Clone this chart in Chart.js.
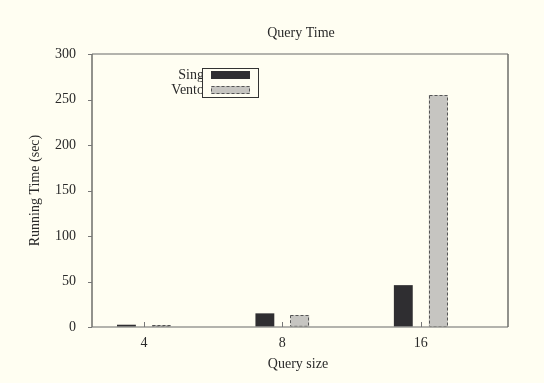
<!DOCTYPE html>
<html>
<head>
<meta charset="utf-8">
<script src="https://cdn.jsdelivr.net/npm/chart.js@4/dist/chart.umd.min.js"></script>
<style>
  html, body { margin: 0; padding: 0; background: #fffef2; }
  #wrap { width: 544px; height: 383px; }
</style>
</head>
<body>
<div id="wrap"><canvas id="c" width="544" height="383"></canvas></div>
<script>
// Query sizes (category labels) and their axis positions
const querySizes = ['4', '8', '16'];
const queryPos = [1, 2, 3];
// Running times in seconds
const singTimes = [2.5, 15, 46];
const ventoTimes = [2, 13, 255];
const legendLabels = ['Sing', 'Vento'];
const yTicks = [0, 50, 100, 150, 200, 250, 300];

const SERIF = '"Liberation Serif", "DejaVu Serif", serif';
const TEXT = '#2a2a2a';

const pts = (vals) => vals.map((v, i) => ({ x: queryPos[i], y: v }));

const framePlugin = {
  id: 'frame',
  beforeDraw(chart) {
    const c = chart.ctx;
    c.save();
    c.fillStyle = '#fffef2';
    c.fillRect(0, 0, chart.width, chart.height);
    c.restore();
  },
  afterDatasetsDraw(chart) {
    const c = chart.ctx;
    const a = chart.chartArea;
    const xs = chart.scales.x, ys = chart.scales.y;
    c.save();
    // dashed outline on the light bars
    const meta = chart.getDatasetMeta(1);
    c.strokeStyle = '#555';
    c.lineWidth = 1;
    c.setLineDash([3, 2]);
    meta.data.forEach(b => {
      const p = b.getProps(['x', 'y', 'base', 'width'], true);
      const l = Math.round(p.x - p.width / 2) + 0.5, r = Math.round(p.x + p.width / 2) - 0.5;
      c.strokeRect(l, Math.round(p.y) + 0.5, r - l, p.base - p.y - 1);
    });
    c.setLineDash([]);
    // frame
    c.lineWidth = 1.5;
    c.strokeStyle = '#9a9a96';
    c.beginPath(); c.moveTo(a.left, a.top); c.lineTo(a.right, a.top); c.stroke();
    c.beginPath(); c.moveTo(a.left, a.bottom); c.lineTo(a.right, a.bottom); c.stroke();
    c.strokeStyle = '#6e6e6a';
    c.beginPath(); c.moveTo(a.left, a.top); c.lineTo(a.left, a.bottom); c.stroke();
    c.beginPath(); c.moveTo(a.right, a.top); c.lineTo(a.right, a.bottom); c.stroke();
    // y ticks (outward)
    c.lineWidth = 1;
    c.strokeStyle = '#777';
    yTicks.forEach(v => {
      const y = Math.round(ys.getPixelForValue(v)) + 0.5;
      c.beginPath(); c.moveTo(a.left - 4, y); c.lineTo(a.left, y); c.stroke();
    });
    // x ticks (inward)
    queryPos.forEach(v => {
      const x = Math.round(xs.getPixelForValue(v)) + 0.5;
      c.beginPath(); c.moveTo(x, a.bottom); c.lineTo(x, a.bottom - 5); c.stroke();
    });
    // titles
    c.fillStyle = TEXT;
    c.font = '14px ' + SERIF;
    c.textAlign = 'center';
    c.textBaseline = 'middle';
    c.fillText('Query Time', (a.left + a.right) / 2 + 1, 33);
    c.fillText('Query size', (a.left + a.right) / 2 - 2, 364);
    c.save();
    c.translate(35, (a.top + a.bottom) / 2);
    c.rotate(-Math.PI / 2);
    c.fillText('Running Time (sec)', 0, 0);
    c.restore();
    // legend
    c.textAlign = 'right';
    c.fillText(legendLabels[0], 204, 75);
    c.fillText(legendLabels[1], 204, 90);
    c.fillStyle = '#fffef2';
    c.fillRect(202, 68, 56, 29);
    c.strokeStyle = '#333';
    c.lineWidth = 1;
    c.strokeRect(202.5, 68.5, 56, 29);
    c.fillStyle = '#2f2e31';
    c.fillRect(211, 71, 39, 8);
    c.fillStyle = '#c6c5c1';
    c.fillRect(211, 86, 39, 8);
    c.strokeStyle = '#555';
    c.setLineDash([3, 2]);
    c.strokeRect(211.5, 86.5, 38, 7);
    c.restore();
  }
};

new Chart(document.getElementById('c'), {
  type: 'bar',
  data: {
    datasets: [
      { label: legendLabels[0], data: pts(singTimes), backgroundColor: '#2f2e31', borderWidth: 0,
        categoryPercentage: 0.505, barPercentage: 0.54 },
      { label: legendLabels[1], data: pts(ventoTimes), backgroundColor: '#c6c5c1', borderWidth: 0,
        categoryPercentage: 0.505, barPercentage: 0.54 }
    ]
  },
  options: {
    responsive: false,
    animation: false,
    layout: { padding: { top: 54, right: 36, left: 0, bottom: 0 } },
    plugins: { legend: { display: false }, title: { display: false }, tooltip: { enabled: false } },
    scales: {
      x: {
        type: 'linear', min: 0.625, max: 3.63, offset: false,
        grid: { display: false, offset: false }, border: { display: false },
        afterBuildTicks: s => { s.ticks = queryPos.map(v => ({ value: v })); },
        afterFit: s => { s.height = 56; },
        ticks: {
          padding: 0, color: TEXT, font: { family: SERIF, size: 14 },
          callback: v => querySizes[queryPos.indexOf(v)] ?? ''
        }
      },
      y: {
        min: 0, max: 300,
        grid: { display: false }, border: { display: false },
        afterBuildTicks: s => { s.ticks = yTicks.map(v => ({ value: v })); },
        afterFit: s => { s.width = 92; },
        ticks: { padding: 8, color: TEXT, font: { family: SERIF, size: 14 } }
      }
    }
  },
  plugins: [framePlugin]
});
</script>
</body>
</html>
